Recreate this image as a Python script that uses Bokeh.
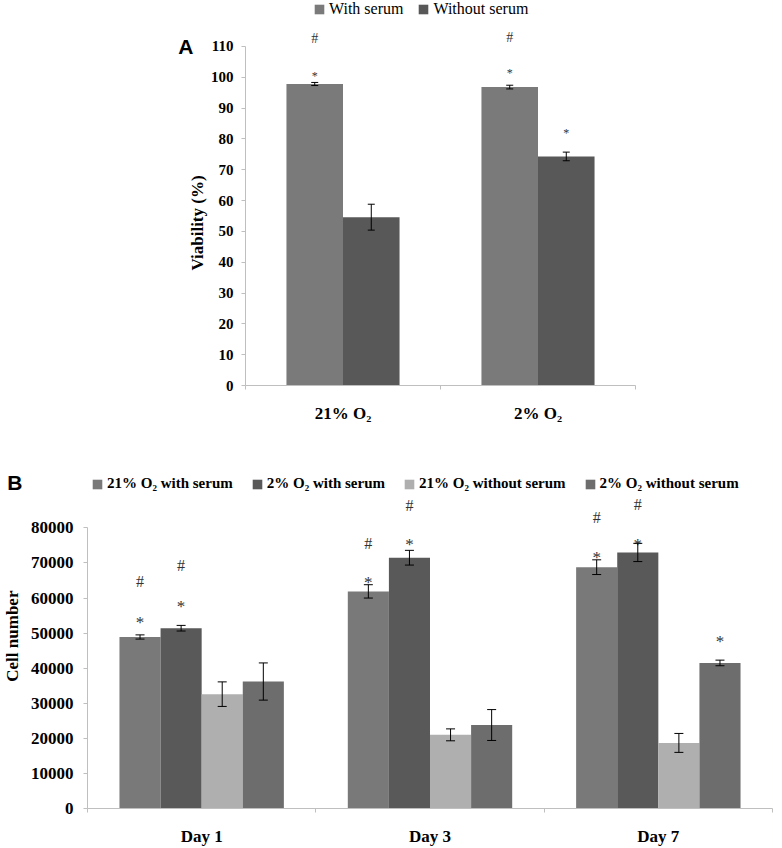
from bokeh.plotting import figure
from bokeh.models import (ColumnDataSource, Whisker, TeeHead, Legend, LegendItem,
                          LinearAxis, Range1d, FixedTicker)
from bokeh.embed import file_html
from bokeh.resources import INLINE
from bokeh.core.properties import value

SERIF = "Liberation Serif"
SANS = "Liberation Sans"
AXIS_GRAY = "#bfbfbf"
MARK = "#333333"

# ---------------- Panel A data ----------------
a_groups = ["21% O₂", "2% O₂"]
a_series = ["With serum", "Without serum"]
a_colors = ["#7a7a7a", "#585858"]
a_with = [97.8, 96.8]
a_with_err = [0.5, 0.6]
a_without = [54.6, 74.3]
a_without_err = [4.2, 1.4]
a_with_star = ["*", "*"]
a_with_star_y = [101.4, 102.3]
a_with_hash = ["#", "#"]
a_with_hash_y = [112.5, 113.0]
a_without_star = ["", "*"]
a_without_star_y = [0, 82.8]
a_yticks = [0, 10, 20, 30, 40, 50, 60, 70, 80, 90, 100, 110]
a_ylabel = "Viability  (%)"

# ---------------- Panel B data ----------------
b_days = ["Day 1", "Day 3", "Day 7"]
b_series = ["21% O₂ with serum", "2% O₂ with serum",
            "21% O₂ without serum", "2% O₂ without serum"]
b_colors = ["#797979", "#595959", "#afafaf", "#6d6d6d"]
b_21_with = [48900, 61900, 68800]
b_21_with_err = [600, 1900, 2100]
b_2_with = [51400, 71500, 73000]
b_2_with_err = [800, 2100, 2600]
b_21_without = [32600, 21000, 18700]
b_21_without_err = [3500, 1700, 2700]
b_2_without = [36200, 23800, 41500]
b_2_without_err = [5300, 4400, 800]
b_21_with_star_y = [54000, 65300, 72300]
b_21_with_hash_y = [64800, 75600, 83000]
b_2_with_star_y = [58500, 76100, 76000]
b_2_with_hash_y = [69300, 86300, 86600]
b_2_without_star = ["", "", "*"]
b_2_without_star_y = [0, 0, 48400]
b_yticks = [0, 10000, 20000, 30000, 40000, 50000, 60000, 70000, 80000]
b_ylabel = "Cell number"


def style_common(p):
    p.grid.visible = False
    p.outline_line_color = None
    p.background_fill_color = "white"
    p.border_fill_color = "white"


def add_x_axis(p, cats, label_size, label_standoff):
    n = len(cats)
    centers = [i + 0.5 for i in range(n)]
    ax = LinearAxis(ticker=FixedTicker(ticks=centers, minor_ticks=list(range(n + 1))),
                    major_label_overrides={c: name for c, name in zip(centers, cats)},
                    axis_line_color=AXIS_GRAY,
                    major_tick_line_color=None, major_tick_out=0, major_tick_in=0,
                    minor_tick_line_color=AXIS_GRAY, minor_tick_out=4, minor_tick_in=0,
                    major_label_text_font=SERIF, major_label_text_font_style="bold",
                    major_label_text_font_size=label_size, major_label_text_color="black",
                    major_label_standoff=label_standoff)
    p.add_layout(ax, "below")


def add_y_axes(p, ticks, bounds, tick_size, tick_standoff,
               label, label_pos, label_size, label_standoff,
               letter, letter_pos, letter_standoff):
    ax = LinearAxis(ticker=FixedTicker(ticks=ticks), bounds=bounds,
                    axis_line_color=AXIS_GRAY, major_tick_line_color=AXIS_GRAY,
                    major_tick_out=4, major_tick_in=0, minor_tick_line_color=None,
                    major_label_text_font=SERIF, major_label_text_font_style="bold",
                    major_label_text_font_size=tick_size, major_label_text_color="black",
                    major_label_standoff=tick_standoff)
    p.add_layout(ax, "left")
    lab = LinearAxis(ticker=FixedTicker(ticks=[label_pos]),
                     major_label_overrides={label_pos: label},
                     major_label_orientation="parallel",
                     axis_line_color=None, major_tick_line_color=None,
                     major_tick_out=0, major_tick_in=0, minor_tick_line_color=None,
                     major_label_text_font=SERIF, major_label_text_font_style="bold",
                     major_label_text_font_size=label_size, major_label_text_color="black",
                     major_label_standoff=label_standoff)
    p.add_layout(lab, "left")
    let = LinearAxis(ticker=FixedTicker(ticks=[letter_pos]),
                     major_label_overrides={letter_pos: letter},
                     axis_line_color=None, major_tick_line_color=None,
                     major_tick_out=0, major_tick_in=0, minor_tick_line_color=None,
                     major_label_text_font=SANS, major_label_text_font_style="bold",
                     major_label_text_font_size="21px", major_label_text_color="black",
                     major_label_standoff=letter_standoff)
    p.add_layout(let, "left")


def add_series(p, n, vals, errs, offset, width, color, head, stars=None, star_y=None,
               star_size="14px", hashes=None, hash_y=None, hash_size="14px"):
    xs = [i + 0.5 + offset for i in range(n)]
    src = ColumnDataSource(dict(
        x=xs, v=vals,
        lo=[v - e for v, e in zip(vals, errs)],
        hi=[v + e for v, e in zip(vals, errs)]))
    r = p.vbar(x="x", top="v", width=width, source=src, fill_color=color, line_color=None)
    p.add_layout(Whisker(source=src, base="x", upper="hi", lower="lo", level="overlay",
                         line_color="black", line_width=1,
                         upper_head=TeeHead(size=head, line_color="black", line_width=1),
                         lower_head=TeeHead(size=head, line_color="black", line_width=1)))
    if stars is not None:
        s = ColumnDataSource(dict(x=xs, y=star_y, t=stars))
        p.text(x="x", y="y", text="t", source=s, text_font=value(SERIF),
               text_font_size=star_size, text_align="center", text_baseline="middle",
               text_color=MARK, y_offset=3, level="overlay")
    if hashes is not None:
        s = ColumnDataSource(dict(x=xs, y=hash_y, t=hashes))
        p.text(x="x", y="y", text="t", source=s, text_font=value(SERIF),
               text_font_size=hash_size, text_align="center", text_baseline="middle",
               text_color=MARK, level="overlay")
    return r


W = 782
# ---------------- Panel A ----------------
A_H = 425
A_FB = 386                       # frame bottom (px from figure top)
A_PX_PER_UNIT = 340 / 110
na = len(a_groups)
pa = figure(x_range=Range1d(0, na), y_range=Range1d(0, A_FB / A_PX_PER_UNIT),
            width=W, height=A_H, output_backend="svg", toolbar_location=None,
            x_axis_location=None, y_axis_location=None,
            min_border_left=245, min_border_right=W - 635, min_border_top=0,
            min_border_bottom=A_H - A_FB)
style_common(pa)
add_y_axes(pa, a_yticks, (0, 110), "15px", 8,
           a_ylabel, 53.4, "17px", 0, "A", 110, -8)
add_x_axis(pa, a_groups, "17px", 14)

ra1 = add_series(pa, na, a_with, a_with_err, -0.145, 0.29, a_colors[0], 7,
                 stars=a_with_star, star_y=a_with_star_y, star_size="12px",
                 hashes=a_with_hash, hash_y=a_with_hash_y, hash_size="14px")
ra2 = add_series(pa, na, a_without, a_without_err, 0.145, 0.29, a_colors[1], 7,
                 stars=a_without_star, star_y=a_without_star_y, star_size="12px")

leg_a = Legend(items=[LegendItem(label=a_series[0], renderers=[ra1]),
                      LegendItem(label=a_series[1], renderers=[ra2])],
               orientation="horizontal", location=(68, A_FB - 19),
               padding=0, margin=0, spacing=14, label_standoff=4,
               glyph_width=12, glyph_height=12, label_height=12,
               label_text_font=SERIF, label_text_font_size="16px", label_text_color="black",
               border_line_color=None, background_fill_alpha=0)
pa.add_layout(leg_a)

# ---------------- Panel B ----------------
B_H = 848 - A_H
B_FB = 814 - A_H                 # frame bottom (px from figure top)
B_PX_PER_UNIT = 285 / 80000
nb = len(b_days)
pb = figure(x_range=Range1d(0, nb), y_range=Range1d(0, B_FB / B_PX_PER_UNIT),
            width=W, height=B_H, output_backend="svg", toolbar_location=None,
            x_axis_location=None, y_axis_location=None,
            min_border_left=87, min_border_right=W - 772, min_border_top=0,
            min_border_bottom=B_H - B_FB)
style_common(pb)
add_y_axes(pb, b_yticks, (0, 80000), "17px", 10,
           b_ylabel, 49140, "17px", 5, "B", 92980, -22)
add_x_axis(pb, b_days, "17px", 14)

bw = 0.18
rb1 = add_series(pb, nb, b_21_with, b_21_with_err, -0.27, bw, b_colors[0], 9,
                 stars=["*", "*", "*"], star_y=b_21_with_star_y, star_size="17px",
                 hashes=["#", "#", "#"], hash_y=b_21_with_hash_y, hash_size="16px")
rb2 = add_series(pb, nb, b_2_with, b_2_with_err, -0.09, bw, b_colors[1], 9,
                 stars=["*", "*", "*"], star_y=b_2_with_star_y, star_size="17px",
                 hashes=["#", "#", "#"], hash_y=b_2_with_hash_y, hash_size="16px")
rb3 = add_series(pb, nb, b_21_without, b_21_without_err, 0.09, bw, b_colors[2], 9)
rb4 = add_series(pb, nb, b_2_without, b_2_without_err, 0.27, bw, b_colors[3], 9,
                 stars=b_2_without_star, star_y=b_2_without_star_y, star_size="17px")

leg_b = Legend(items=[LegendItem(label=b_series[i], renderers=[r])
                      for i, r in enumerate([rb1, rb2, rb3, rb4])],
               orientation="horizontal", location=(4, B_FB - 56 - 17),
               padding=0, margin=0, spacing=18, label_standoff=4,
               glyph_width=12, glyph_height=12, label_height=12,
               label_text_font=SERIF, label_text_font_style="bold",
               label_text_font_size="15px", label_text_color="black",
               border_line_color=None, background_fill_alpha=0)
pb.add_layout(leg_b)

open("out.html", "w").write(file_html([pa, pb], INLINE))
